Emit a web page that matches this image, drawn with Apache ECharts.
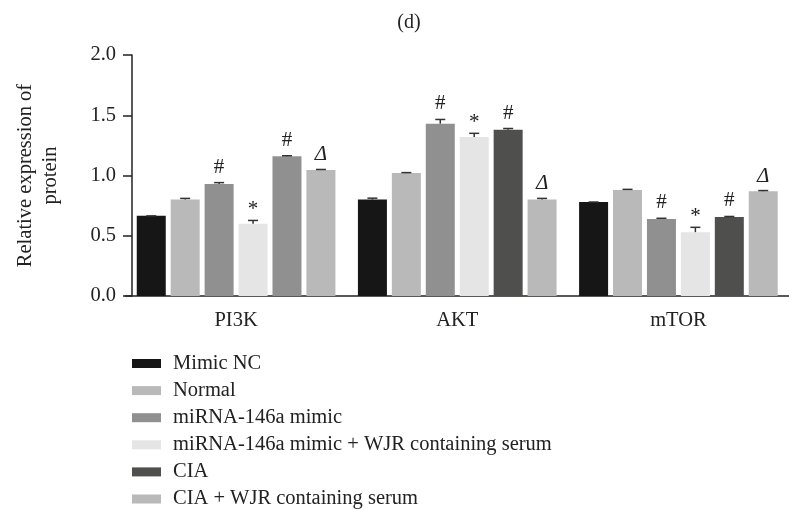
<!DOCTYPE html>
<html>
<head>
<meta charset="utf-8">
<script src="https://cdn.jsdelivr.net/npm/echarts@6/dist/echarts.min.js"></script>
<style>
html,body{margin:0;padding:0;background:#fff;}
#chart{width:789px;height:513px;}
</style>
</head>
<body>
<div id="chart"></div>
<script>
const categories = ['PI3K', 'AKT', 'mTOR'];
const seriesNames = ['Mimic NC', 'Normal', 'miRNA-146a mimic', 'miRNA-146a mimic + WJR containing serum', 'CIA', 'CIA + WJR containing serum'];
const mimicNC = [0.665, 0.80, 0.78];
const normal = [0.80, 1.02, 0.88];
const mimic = [0.93, 1.43, 0.64];
const mimicWJR = [0.60, 1.32, 0.53];
const cia = [1.16, 1.38, 0.655];
const ciaWJR = [1.045, 0.80, 0.87];
const errMimicNC = [0.0, 0.012, 0.0];
const errNormal = [0.01, 0.004, 0.005];
const errMimic = [0.011, 0.035, 0.005];
const errMimicWJR = [0.027, 0.03, 0.04];
const errCIA = [0.004, 0.01, 0.005];
const errCIAWJR = [0.005, 0.01, 0.005];
const marksMimicNC = ['', '', ''];
const marksNormal = ['', '', ''];
const marksMimic = ['#', '#', '#'];
const marksMimicWJR = ['*', '*', '*'];
const marksCIA = ['#', '#', '#'];
const marksCIAWJR = ['Δ', 'Δ', 'Δ'];
const yTicks = [0, 0.5, 1.0, 1.5, 2.0];

const values = [mimicNC, normal, mimic, mimicWJR, cia, ciaWJR];
const errors = [errMimicNC, errNormal, errMimic, errMimicWJR, errCIA, errCIAWJR];
const marks = [marksMimicNC, marksNormal, marksMimic, marksMimicWJR, marksCIA, marksCIAWJR];
const colors = ['#161616', '#b9b9b9', '#8f908f', '#e5e5e5', '#4f4f4e', '#b9b9b9'];

const FONT = '"Liberation Serif", "DejaVu Serif", serif';
const FS = 20.5;
const BW = 29, BGAP = '17%';

const chart = echarts.init(document.getElementById('chart'));

const barSeries = seriesNames.map((name, s) => ({
  name: name,
  type: 'bar',
  barWidth: BW,
  barGap: BGAP,
  itemStyle: { color: colors[s] },
  emphasis: { disabled: true },
  data: values[s].map((v, c) => {
    // In the source figure the CIA bar of the first group is rendered mid grey
    if (s === 4 && c === 0) return { value: v, itemStyle: { color: colors[2] } };
    return v;
  })
}));

const errData = [];
seriesNames.forEach((n, s) => {
  categories.forEach((cat, c) => {
    errData.push([c, s, values[s][c], errors[s][c], marks[s][c]]);
  });
});

const errSeries = {
  type: 'custom',
  z: 5,
  silent: true,
  data: errData,
  encode: { x: 0, y: 2 },
  renderItem: function (params, api) {
    const c = api.value(0), s = api.value(1), v = api.value(2), e = api.value(3);
    const mark = errData[params.dataIndex][4];
    const layout = api.barLayout({ count: 6, barWidth: BW, barGap: BGAP });
    const base = api.coord([c, v]);
    const cx = base[0] + layout[s].offsetCenter;
    const topY = base[1];
    const capY = api.coord([c, v + e])[1];
    const children = [
      { type: 'line', shape: { x1: cx, y1: topY, x2: cx, y2: capY }, style: { stroke: '#333', lineWidth: 1.5 } },
      { type: 'line', shape: { x1: cx - 5, y1: capY, x2: cx + 5, y2: capY }, style: { stroke: '#333', lineWidth: 1.5 } }
    ];
    if (mark) {
      const isStar = mark === '*';
      children.push({
        type: 'text',
        style: {
          text: mark,
          x: cx,
          y: capY - (isStar ? 0 : (mark === 'Δ' ? 4 : 5)),
          align: 'center',
          verticalAlign: 'bottom',
          font: (mark === 'Δ' ? 'italic ' : '') + '21px ' + FONT,
          fill: '#222'
        }
      });
    }
    return { type: 'group', children: children };
  }
};

chart.setOption({
  animation: false,
  backgroundColor: '#fff',
  title: {
    text: '(d)',
    left: 404,
    top: 8,
    textAlign: 'center',
    textStyle: { fontFamily: FONT, fontSize: 20, fontWeight: 'normal', color: '#222' }
  },
  legend: {
    data: seriesNames,
    orient: 'vertical',
    left: 132,
    top: 353,
    padding: 0,
    icon: 'rect',
    itemWidth: 29,
    itemHeight: 9,
    itemGap: 6.1,
    selectedMode: false,
    textStyle: { fontFamily: FONT, fontSize: FS, color: '#222', lineHeight: 21, padding: [0, 0, 0, 7] }
  },
  grid: { left: 125.5, right: -11.5, top: 55, bottom: 217, containLabel: false },
  xAxis: {
    type: 'category',
    data: categories,
    axisLine: { lineStyle: { color: '#222', width: 1.5 } },
    axisTick: { alignWithLabel: true, length: 5, lineStyle: { color: '#222', width: 1.5 } },
    axisLabel: { fontFamily: FONT, fontSize: FS, color: '#222', margin: 14 }
  },
  yAxis: {
    type: 'value',
    min: 0,
    max: 2,
    interval: 0.5,
    offset: -6.5,
    name: 'Relative expression of\nprotein',
    nameLocation: 'middle',
    nameGap: 69,
    nameTextStyle: { fontFamily: FONT, fontSize: FS, color: '#222', lineHeight: 25 },
    splitLine: { show: false },
    axisLine: { show: true, lineStyle: { color: '#222', width: 1.5 } },
    axisTick: { show: true, length: 9, lineStyle: { color: '#222', width: 1.5 } },
    axisLabel: {
      fontFamily: FONT, fontSize: FS, color: '#222', margin: 16,
      formatter: v => yTicks.indexOf(v) >= 0 ? v.toFixed(1) : ''
    }
  },
  series: barSeries.concat([errSeries])
});
</script>
</body>
</html>
